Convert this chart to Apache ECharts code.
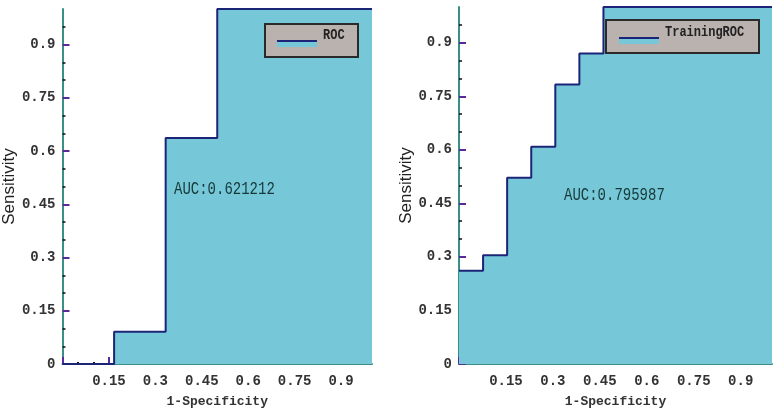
<!DOCTYPE html>
<html><head><meta charset="utf-8">
<script src="https://cdn.jsdelivr.net/npm/echarts@6/dist/echarts.min.js"></script>
<style>html,body{margin:0;padding:0;background:#fff}#c{width:775px;height:413px}</style>
</head><body><div id="c"></div>
<script>
// Left chart: ROC
var leftFpr = [0, 0.1667, 0.3333, 0.5, 1.0];
var leftTpr = [0, 0.0909, 0.6364, 1.0, 1.0];
var leftName = 'ROC';
var leftAuc = 'AUC:0.621212';
// Right chart: TrainingROC
var rightFpr = [0, 0.0769, 0.1538, 0.2308, 0.3077, 0.3846, 0.4615, 1.0];
var rightTpr = [0.2609, 0.3043, 0.5217, 0.6087, 0.7826, 0.8696, 1.0, 1.0];
var rightName = 'TrainingROC';
var rightAuc = 'AUC:0.795987';
var xTitle = '1-Specificity';
var yTitle = 'Sensitivity';
var tickValues = [0, 0.15, 0.3, 0.45, 0.6, 0.75, 0.9];

var FILL = '#76c8d8', LINE = '#1c2478', AXIS = '#3a8f86', TICK = '#5a2a9a';
var MONO = '"Liberation Mono", "DejaVu Sans Mono", monospace';

function pts(xs, ys){ return xs.map(function(x,i){ return [x, ys[i]]; }); }
function fmt(v){ return (Math.round(v*100)/100).toString(); }

function xAx(idx){
  return {
    type:'value', gridIndex: idx, min:0, max:1, interval:0.15,
    name: xTitle, nameLocation:'middle', nameGap:31,
    nameTextStyle:{fontFamily:MONO, fontWeight:'bold', fontSize:13, color:'#333'},
    axisLine:{show:true, lineStyle:{color:AXIS, width:2}},
    axisTick:{show:true, inside:true, length:7, customValues: tickValues, lineStyle:{color:TICK, width:2}},
    minorTick:{show:true, splitNumber:3, length:2, lineStyle:{color:'#111', width:2}},
    splitLine:{show:false},
    axisLabel:{customValues: tickValues.slice(1), margin:10, fontFamily:MONO, fontWeight:'bold', fontSize:14, color:'#333', formatter: fmt}
  };
}
function yAx(idx){
  return {
    type:'value', gridIndex: idx, min:0, max:1, interval:0.15,
    name: yTitle, nameLocation:'middle', nameGap:44, nameRotate:90,
    nameTextStyle:{fontFamily:'"Liberation Sans", Arial, sans-serif', fontSize:17, color:'#222'},
    axisLine:{show:true, lineStyle:{color:AXIS, width:2}},
    axisTick:{show:true, inside:true, length:7, customValues: tickValues, lineStyle:{color:TICK, width:2}},
    minorTick:{show:true, splitNumber:3, length:3, lineStyle:{color:'#111', width:1.5}},
    splitLine:{show:false},
    axisLabel:{customValues: tickValues, margin:7, fontFamily:MONO, fontWeight:'bold', fontSize:14, color:'#333', formatter: fmt}
  };
}
function series(name, xs, ys, idx){
  return {
    name:name, type:'line', xAxisIndex:idx, yAxisIndex:idx, step:'end',
    data: pts(xs, ys), symbol:'none', silent:true,
    lineStyle:{color:LINE, width:2},
    areaStyle:{color:FILL, opacity:1}
  };
}
function legendBox(name, x, y, w, h, iconX, iconY, textX){
  return [
    {type:'rect', z:100, shape:{x:x, y:y, width:w, height:h}, style:{fill:'#bab2ae', stroke:'#2a2a2a', lineWidth:2}},
    {type:'rect', z:101, shape:{x:iconX, y:iconY+2, width:40, height:5}, style:{fill:FILL}},
    {type:'rect', z:101, shape:{x:iconX, y:iconY, width:40, height:2}, style:{fill:LINE}},
    {type:'text', z:101, x:textX, y:iconY-4, scaleY:1.15, style:{text:name, font:'bold 12px '+MONO, fill:'#222', verticalAlign:'middle'}}
  ];
}

var chart = echarts.init(document.getElementById('c'));
chart.setOption({
  animation:false,
  backgroundColor:'#fff',
  grid:[
    {left:60, top:9, width:312, bottom:45, containLabel:false},
    {left:459, top:7, width:313, bottom:45, containLabel:false}
  ],
  xAxis:[xAx(0), xAx(1)],
  yAxis:[yAx(0), yAx(1)],
  series:[series(leftName, leftFpr, leftTpr, 0), series(rightName, rightFpr, rightTpr, 1)],
  graphic: legendBox(leftName, 265, 24, 93, 33, 277, 40, 323)
    .concat(legendBox(rightName, 606, 20, 153, 33, 619, 37, 665))
    .concat([
      {type:'text', z:100, x:174, y:189, scaleY:1.3, style:{text:leftAuc, font:'14px '+MONO, fill:'#163838', verticalAlign:'middle'}},
      {type:'text', z:100, x:564, y:195, scaleY:1.3, style:{text:rightAuc, font:'14px '+MONO, fill:'#163838', verticalAlign:'middle'}}
    ])
});
</script></body></html>
